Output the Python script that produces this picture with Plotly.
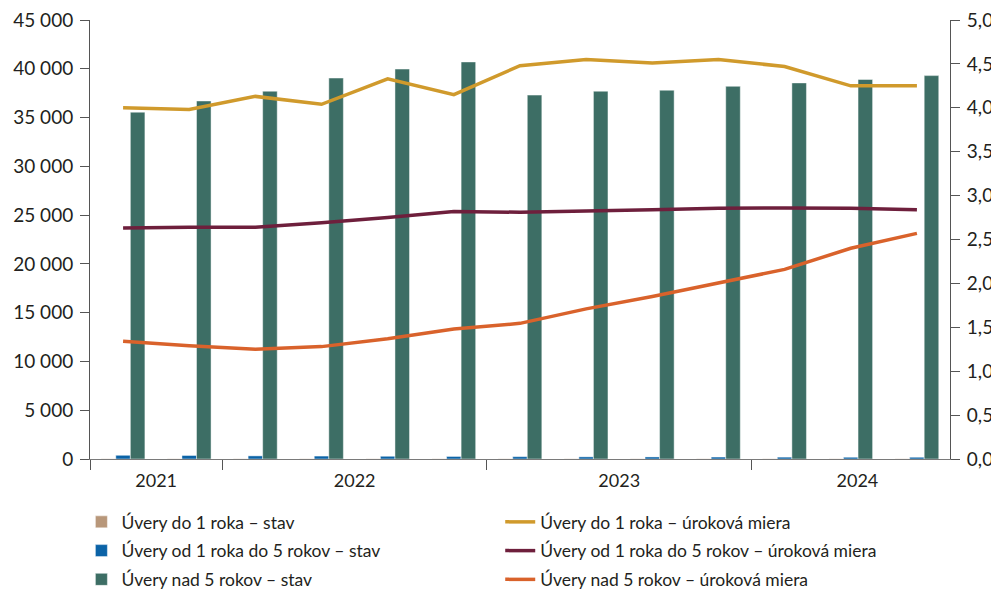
import plotly.graph_objects as go

# quarters 2021 Q3 .. 2024 Q3
quarters = list(range(13))
years = ["2021", "2022", "2023", "2024"]
year_centers = [0.5, 3.5, 7.5, 11.1]
year_bounds = [-0.5, 1.5, 5.5, 9.5]

stav_do1 = [20, 20, 20, 20, 20, 20, 20, 20, 20, 20, 20, 20, 20]
stav_1do5 = [380, 360, 320, 300, 280, 260, 240, 220, 210, 200, 190, 180, 180]
stav_nad5 = [35550, 36700, 37700, 39050, 39970, 40700, 37300, 37700, 37800,
             38200, 38550, 38900, 39300]

miera_do1 = [4.00, 3.98, 4.13, 4.04, 4.33, 4.15, 4.48, 4.55, 4.51, 4.55, 4.47, 4.25, 4.25]
miera_1do5 = [2.63, 2.64, 2.64, 2.69, 2.75, 2.82, 2.81, 2.83, 2.84, 2.855, 2.86, 2.855, 2.84]
miera_nad5 = [1.34, 1.29, 1.25, 1.28, 1.37, 1.48, 1.545, 1.71, 1.85, 2.00, 2.16, 2.40, 2.57]

FONT = "Lato"
TXT = "#231f20"

fig = go.Figure()

bar_edge = dict(width=1, color="rgba(255,255,255,0.45)")
bars = [
    ("Úvery do 1 roka – stav", stav_do1, "#b8977a"),
    ("Úvery od 1 roka do 5 rokov – stav", stav_1do5, "#0b63a7"),
    ("Úvery nad 5 rokov – stav", stav_nad5, "#3d6e65"),
]
lines = [
    ("Úvery do 1 roka – úroková miera", miera_do1, "#d09a2c"),
    ("Úvery od 1 roka do 5 rokov – úroková miera", miera_1do5, "#6e1f3c"),
    ("Úvery nad 5 rokov – úroková miera", miera_nad5, "#d9622b"),
]

for i, (name, vals, col) in enumerate(bars):
    fig.add_trace(go.Bar(x=quarters, y=vals, name=name, legend="legend",
                         legendgroup="b%d" % i,
                         marker=dict(color=col, line=bar_edge)))
for i, (name, vals, col) in enumerate(lines):
    fig.add_trace(go.Scatter(x=quarters, y=vals, name=name, mode="lines",
                             line=dict(color=col, width=3.5), yaxis="y2",
                             legend="legend2", legendgroup="l%d" % i))

leg = dict(orientation="v", yanchor="top", xanchor="left", traceorder="grouped",
           tracegroupgap=3, font=dict(size=17.5, color=TXT), itemwidth=30,
           bgcolor="rgba(0,0,0,0)")

fig.update_layout(
    width=991, height=584,
    margin=dict(l=82, r=49, t=12, b=133, autoexpand=False),
    paper_bgcolor="white", plot_bgcolor="white",
    font=dict(family=FONT, size=18, color=TXT),
    separators=", ",
    barmode="group", bargap=0.34, bargroupgap=0,
    showlegend=True,
    legend=dict(leg, x=-0.01, y=-0.1025),
    legend2=dict(leg, x=0.477, y=-0.1025),
    xaxis=dict(
        range=[-0.5, 12.5], showgrid=False, zeroline=False, automargin=False,
        showline=True, linecolor="#7a7a7a", linewidth=1,
        tickvals=year_centers, ticktext=years, ticks="",
        ticklabelstandoff=5, tickfont=dict(size=18),
        minor=dict(tickvals=year_bounds, ticks="outside", ticklen=10,
                   tickcolor="#555", showgrid=False),
    ),
    yaxis=dict(
        range=[0, 45000], dtick=5000, tickformat=",.0f", automargin=False,
        showgrid=False, zeroline=False, showline=True, tickfont=dict(size=19),
        ticklabeloverflow="allow", ticklabelstandoff=3,
        linecolor="#555", linewidth=1, ticks="outside", ticklen=9, tickcolor="#555",
    ),
    yaxis2=dict(
        range=[0, 5], dtick=0.5, tickformat=".1f", overlaying="y", side="right",
        showgrid=False, zeroline=False, showline=True, automargin=False,
        tickfont=dict(size=19), ticklabeloverflow="allow", ticklabelstandoff=3,
        linecolor="#555", linewidth=1, ticks="outside", ticklen=9, tickcolor="#555",
    ),
)

fig.write_html("out.html")
